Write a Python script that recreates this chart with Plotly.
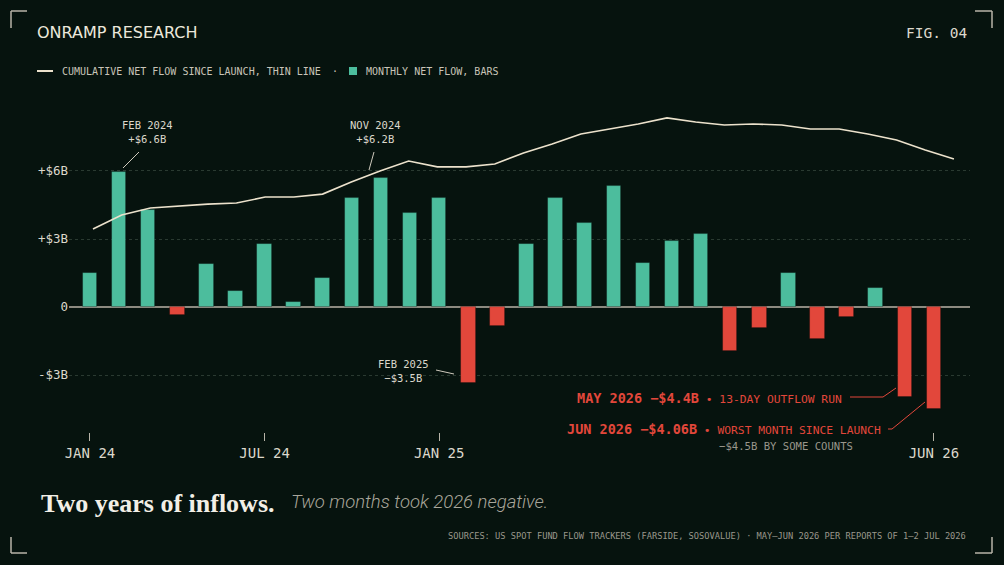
import plotly.graph_objects as go

# Monthly net flow, $B (Jan 2024 .. Jun 2026)
months = ["Jan 2024", "Feb 2024", "Mar 2024", "Apr 2024", "May 2024", "Jun 2024",
          "Jul 2024", "Aug 2024", "Sep 2024", "Oct 2024", "Nov 2024", "Dec 2024",
          "Jan 2025", "Feb 2025", "Mar 2025", "Apr 2025", "May 2025", "Jun 2025",
          "Jul 2025", "Aug 2025", "Sep 2025", "Oct 2025", "Nov 2025", "Dec 2025",
          "Jan 2026", "Feb 2026", "Mar 2026", "Apr 2026", "May 2026", "Jun 2026"]
monthly_flow = [1.5, 5.95, 4.3, -0.35, 1.9, 0.7, 2.8, 0.22, 1.3, 4.8, 5.7, 4.15,
                4.8, -3.35, -0.84, 2.8, 4.8, 3.7, 5.35, 1.95, 2.9, 3.2,
                -1.95, -0.93, 1.5, -1.41, -0.44, 0.85, -3.97, -4.5]

# Cumulative line (thin), own scale
cum_points = list(range(31))
cum_flow = [3.44, 4.06, 4.37, 4.46, 4.54, 4.59, 4.85, 4.85, 4.98, 5.51, 6.0,
            6.44, 6.18, 6.18, 6.31, 6.79, 7.19, 7.63, 7.85, 8.07, 8.34, 8.16,
            8.03, 8.07, 8.03, 7.85, 7.85, 7.63, 7.37, 6.93, 6.53]

tick_pos = [0, 6, 12, 29]
tick_text = ["JAN 24", "JUL 24", "JAN 25", "JUN 26"]
y_ticks = [-3, 0, 3, 6]
y_text = ["-$3B", "0", "+$3B", "+$6B"]

BG = "#06130e"
GREEN = "#4cbd9d"
RED = "#e2473b"
CREAM = "#ece2cc"
TEXT = "#dcd8cc"
GREY = "#9a978c"
MONO = "DejaVu Sans Mono"

# plot area in pixels
L, R, T, B = 69, 970, 100, 432


def fx(px):
    return (px - L) / (R - L)


def fy(py):
    return (B - py) / (B - T)


fig = go.Figure()
fig.add_trace(go.Bar(
    x=list(range(len(months))),
    y=monthly_flow,
    width=0.5,
    marker=dict(color=[GREEN if v >= 0 else RED for v in monthly_flow],
                line=dict(color="rgba(0,0,0,0.35)", width=0.8)),
    hovertext=months,
    showlegend=False,
))
fig.add_trace(go.Scatter(
    x=cum_points,
    y=cum_flow,
    xaxis="x2",
    yaxis="y2",
    mode="lines",
    line=dict(color=CREAM, width=1.6),
    showlegend=False,
))

y_range = [-5.51, 9.13]
fig.update_layout(
    width=1004,
    height=565,
    margin=dict(l=L, r=1004 - R, t=T, b=565 - B),
    paper_bgcolor=BG,
    plot_bgcolor=BG,
    bargap=0,
    xaxis=dict(range=[-0.72, 30.24], tickvals=tick_pos, ticktext=tick_text,
               ticks="outside", ticklen=8, tickcolor="#b8b4a8", tickwidth=1,
               showgrid=False, zeroline=False, showline=False,
               tickfont=dict(family=MONO, size=14, color=TEXT)),
    xaxis2=dict(range=[-0.836, 30.56], overlaying="x", visible=False),
    yaxis=dict(range=y_range, tickvals=y_ticks, ticktext=y_text,
               showgrid=True, gridcolor="#2a3a31", griddash="dot", gridwidth=1,
               zeroline=True, zerolinecolor="#8c8a80", zerolinewidth=1.5,
               ticks="", tickfont=dict(family=MONO, size=12.5, color=TEXT)),
    yaxis2=dict(range=y_range, overlaying="y", visible=False),
)

ann = []
shapes = []


def text(px, py, s, size, color=TEXT, family=MONO, anchor="left", **kw):
    ann.append(dict(xref="paper", yref="paper", x=fx(px), y=fy(py), text=s,
                    showarrow=False, xanchor=anchor, yanchor="middle",
                    font=dict(family=family, size=size, color=color, **kw)))


def seg(x0, y0, x1, y1, color="#cfcabd", width=1):
    shapes.append(dict(type="line", xref="paper", yref="paper",
                       x0=fx(x0), y0=fy(y0), x1=fx(x1), y1=fy(y1),
                       line=dict(color=color, width=width)))


# header
text(35, 33, "ONRAMP RESEARCH", 16, family="DejaVu Sans", color="#ece8dc")
text(969, 33, "FIG. 04", 14.5, anchor="right")

# legend
seg(37, 71, 53, 71, color=CREAM, width=2)
text(60, 71, "CUMULATIVE NET FLOW SINCE LAUNCH, THIN LINE", 10, color="#c8c4b8")
text(335, 71, "·", 10, anchor="center", color="#c8c4b8")
shapes.append(dict(type="rect", xref="paper", yref="paper",
                   x0=fx(349), x1=fx(357), y0=fy(75), y1=fy(67),
                   fillcolor=GREEN, line=dict(width=0)))
text(364, 71, "MONTHLY NET FLOW, BARS", 10, color="#c8c4b8")

# callouts
text(147, 132, "FEB 2024<br>+$6.6B", 10.5, anchor="center")
seg(139, 152, 123, 168)
text(375, 132, "NOV 2024<br>+$6.2B", 10.5, anchor="center")
seg(374, 152, 369, 170)
text(403, 371, "FEB 2025<br>−$3.5B", 10.5, anchor="center")
seg(436, 370, 454, 374)

text(844, 398, "<b>MAY 2026 −$4.4B</b><span style='font-size:11.3px'> • 13-DAY OUTFLOW RUN</span>",
     13.5, color=RED, anchor="right")
seg(850, 397, 883, 397, color=RED)
seg(883, 397, 896, 388, color=RED)
text(883, 429, "<b>JUN 2026 −$4.06B</b><span style='font-size:11.3px'> • WORST MONTH SINCE LAUNCH</span>",
     13.5, color=RED, anchor="right")
seg(888, 429, 892, 429, color=RED)
seg(892, 429, 925, 402, color=RED)
text(786, 446, "−$4.5B BY SOME COUNTS", 10.6, color=GREY, anchor="center")

# footer
text(39, 503, "<b>Two years of inflows.</b>", 26, family="Liberation Serif", color="#f2efe6")
text(289, 502, "Two months took 2026 negative.", 18.5, family="Roboto", color="#a9a69b",
     style="italic", weight=300)
text(968, 536, "SOURCES: US SPOT FUND FLOW TRACKERS (FARSIDE, SOSOVALUE) · MAY–JUN 2026 PER REPORTS OF 1–2 JUL 2026",
     8.7, color=GREY, anchor="right")

# corner brackets
bc = "#b8b4a8"
seg(11, 11, 27, 11, color=bc, width=1.5)
seg(11, 11, 11, 28, color=bc, width=1.5)
seg(975, 11, 992, 11, color=bc, width=1.5)
seg(992, 11, 992, 28, color=bc, width=1.5)
seg(11, 537, 11, 553, color=bc, width=1.5)
seg(11, 553, 27, 553, color=bc, width=1.5)
seg(992, 537, 992, 553, color=bc, width=1.5)
seg(975, 553, 992, 553, color=bc, width=1.5)

fig.update_layout(annotations=ann, shapes=shapes)

fig.write_html("out.html", config={"displayModeBar": False},
               post_script="document.body.style.margin='0';")
